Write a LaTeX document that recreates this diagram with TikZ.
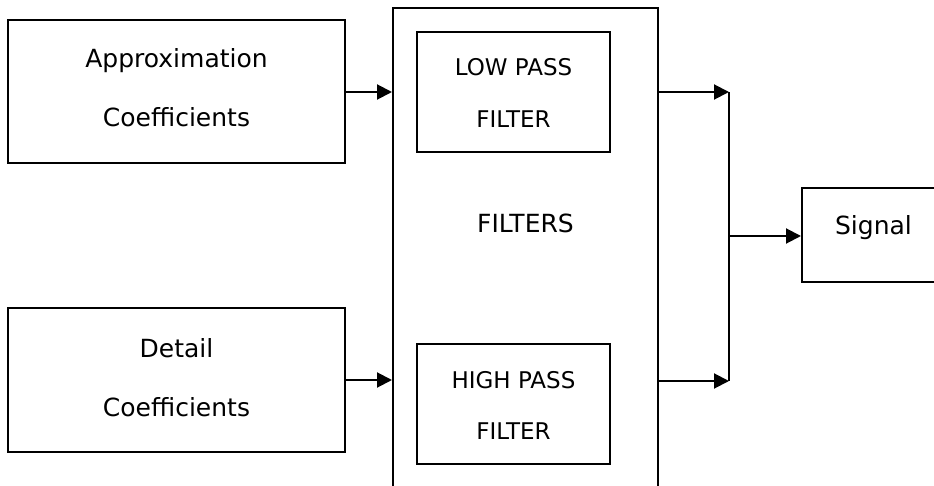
\documentclass[tikz,border=0pt]{standalone}
\usepackage{fontspec}
\setmainfont{DejaVu Sans}
\usetikzlibrary{arrows.meta}
\begin{document}
\begin{tikzpicture}[x=1pt,y=-1pt,
  box/.style={draw,line width=2pt,rectangle,inner sep=0pt},
  lbl/.style={anchor=base,inner sep=0pt,font=\fontsize{25}{25}\selectfont},
  flbl/.style={anchor=base,inner sep=0pt,font=\fontsize{23}{23}\selectfont},
  link/.style={line width=2pt},
  arr/.style={link,-{Triangle[length=15pt,width=15pt]}}]
\useasboundingbox (0,0) rectangle (934,486);
\clip (0,0) rectangle (934,486);
% input blocks
\node[box,minimum width=337pt,minimum height=143pt] (approx) at (176.5,91.5) {};
\node[box,minimum width=337pt,minimum height=144pt] (detail) at (176.5,380) {};
\node[lbl] (approx1) at (176.5,68) {Approximation};
\node[lbl] (approx2) at (176.5,127) {Coefficients};
\node[lbl] (detail1) at (176.5,357) {Detail};
\node[lbl] (detail2) at (176.5,416) {Coefficients};
% filter bank
\node[box,minimum width=265pt,minimum height=492pt] (filters) at (525.5,254) {};
\node[lbl] (filterstxt) at (525.5,233) {FILTERS};
\node[box,minimum width=193pt,minimum height=120pt] (low) at (513.5,92) {};
\node[box,minimum width=193pt,minimum height=120pt] (high) at (513.5,404) {};
\node[flbl] (low1) at (513.5,76) {LOW PASS};
\node[flbl] (low2) at (513.5,128) {FILTER};
\node[flbl] (high1) at (513.5,388) {HIGH PASS};
\node[flbl] (high2) at (513.5,439) {FILTER};
% output block
\node[box,minimum width=148pt,minimum height=94pt] (signal) at (876,235) {};
\node[lbl] (signaltxt) at (873.5,235) {Signal};
% connectors
\coordinate (jtop) at (729,92);
\coordinate (jbot) at (729,381);
\coordinate (jmid) at (729,236);
\draw[arr] (approx.east |- 0,92) -- (filters.west |- 0,92);
\draw[arr] (detail.east |- 0,380) -- (filters.west |- 0,380);
\draw[arr] (filters.east |- jtop) -- (jtop);
\draw[arr] (filters.east |- jbot) -- (jbot);
\draw[link] (jtop) -- (jbot);
\draw[arr] (jmid) -- (signal.west |- jmid);
\end{tikzpicture}
\end{document}
